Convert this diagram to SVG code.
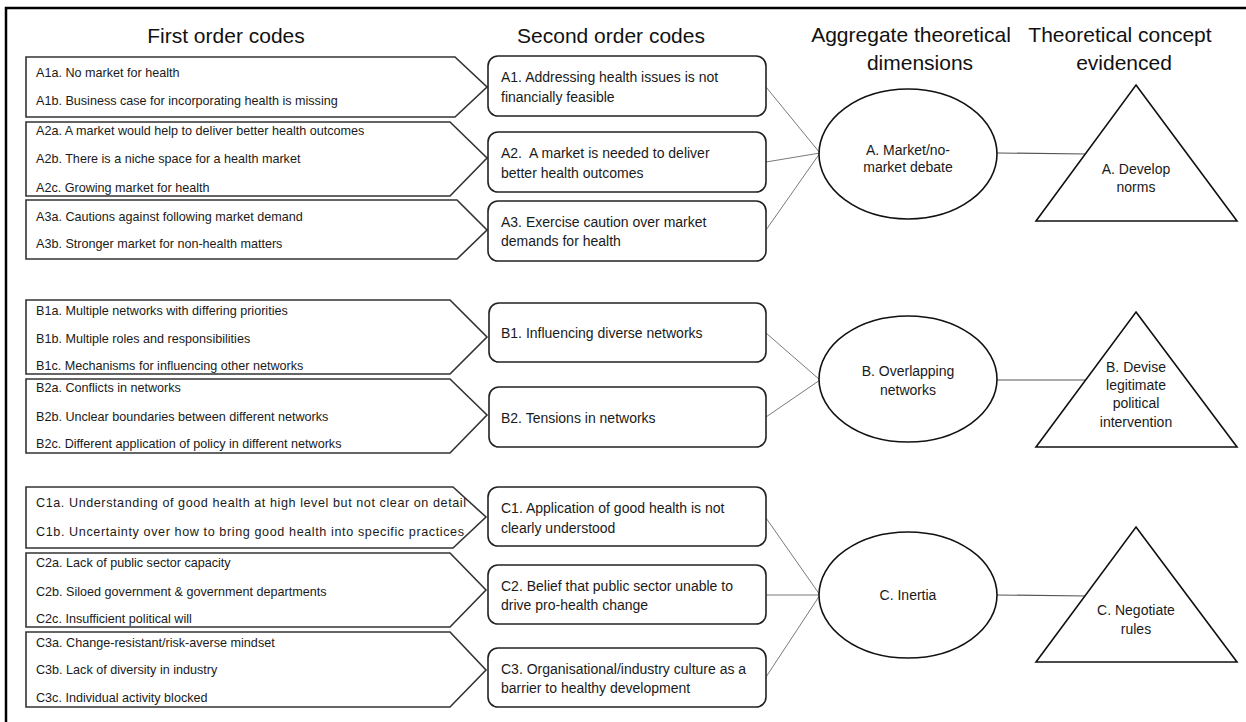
<svg xmlns="http://www.w3.org/2000/svg" width="1246" height="722" viewBox="0 0 1246 722">
<style>
.hd{font-family:"Liberation Sans",Arial,sans-serif;font-size:21px;fill:#111;text-anchor:middle}
.t1{font-family:"Liberation Sans",Arial,sans-serif;font-size:12.6px;fill:#1a1a1a}
.t2{font-family:"Liberation Sans",Arial,sans-serif;font-size:14px;fill:#1a1a1a}
.t3{font-family:"Liberation Sans",Arial,sans-serif;font-size:14px;fill:#1a1a1a;text-anchor:middle}
.pent{fill:#fff;stroke:#333;stroke-width:1.6}
.rr{fill:#fff;stroke:#222;stroke-width:1.6}
.el{fill:#fff;stroke:#111;stroke-width:1.6}
.tri{fill:#fff;stroke:#111;stroke-width:1.6}
.cn{stroke:#7a7a7a;stroke-width:1;fill:none}
.cn2{stroke:#555;stroke-width:1.2;fill:none}
</style>
<rect width="1246" height="722" fill="#fff"/>
<path d="M6,722 V8 H1246" fill="none" stroke="#000" stroke-width="2.5"/>

<g id="headers">
<text class="hd" x="226" y="43">First order codes</text>
<text class="hd" x="611" y="43">Second order codes</text>
<text class="hd" x="911" y="42">Aggregate theoretical</text>
<text class="hd" x="920" y="70">dimensions</text>
<text class="hd" x="1120" y="42">Theoretical concept</text>
<text class="hd" x="1124" y="70">evidenced</text>
</g>

<g id="connectors">
<line class="cn" x1="766" y1="87" x2="820" y2="153"/>
<line class="cn" x1="766" y1="162" x2="820" y2="153"/>
<line class="cn" x1="766" y1="230" x2="820" y2="153"/>
<line class="cn2" x1="997" y1="153" x2="1087" y2="154"/>
<line class="cn" x1="766" y1="333" x2="820" y2="380"/>
<line class="cn" x1="766" y1="417" x2="820" y2="380"/>
<line class="cn2" x1="997" y1="380" x2="1087" y2="380"/>
<line class="cn" x1="766" y1="518" x2="820" y2="595"/>
<line class="cn" x1="766" y1="595" x2="820" y2="595"/>
<line class="cn" x1="766" y1="677" x2="820" y2="595"/>
<line class="cn2" x1="996" y1="595" x2="1087" y2="596"/>
</g>

<g id="A1-first">
<polygon class="pent" points="26,57 455,57 487,87 455,117 26,117"/>
<text class="t1" x="36" y="77">A1a. No market for health</text>
<text class="t1" x="36" y="105">A1b. Business case for incorporating health is missing</text>
</g>
<g id="A2-first">
<polygon class="pent" points="26,122 450,122 487,158 450,196 26,196"/>
<text class="t1" x="36" y="135">A2a. A market would help to deliver better health outcomes</text>
<text class="t1" x="36" y="163">A2b. There is a niche space for a health market</text>
<text class="t1" x="36" y="192">A2c. Growing market for health</text>
</g>
<g id="A3-first">
<polygon class="pent" points="26,200 457,200 487,230 457,259 26,259"/>
<text class="t1" x="36" y="221">A3a. Cautions against following market demand</text>
<text class="t1" x="36" y="248">A3b. Stronger market for non-health matters</text>
</g>

<g id="B1-first">
<polygon class="pent" points="26,300 450,300 487,337 450,374 26,374"/>
<text class="t1" x="36" y="315">B1a. Multiple networks with differing priorities</text>
<text class="t1" x="36" y="343">B1b. Multiple roles and responsibilities</text>
<text class="t1" x="36" y="370">B1c. Mechanisms for influencing other networks</text>
</g>
<g id="B2-first">
<polygon class="pent" points="26,379 450,379 487,415 450,453 26,453"/>
<text class="t1" x="36" y="392">B2a. Conflicts in networks</text>
<text class="t1" x="36" y="421">B2b. Unclear boundaries between different networks</text>
<text class="t1" x="36" y="448">B2c. Different application of policy in different networks</text>
</g>

<g id="C1-first">
<polygon class="pent" points="26,487 453,487 486,517 453,548 26,548"/>
<text class="t1" x="36" y="507" textLength="430" lengthAdjust="spacing">C1a. Understanding of good health at high level but not clear on detail</text>
<text class="t1" x="36" y="536" textLength="428" lengthAdjust="spacing">C1b. Uncertainty over how to bring good health into specific practices</text>
</g>
<g id="C2-first">
<polygon class="pent" points="26,553 450,553 486,590 450,627 26,627"/>
<text class="t1" x="36" y="567">C2a. Lack of public sector capacity</text>
<text class="t1" x="36" y="596">C2b. Siloed government &amp; government departments</text>
<text class="t1" x="36" y="623">C2c. Insufficient political will</text>
</g>
<g id="C3-first">
<polygon class="pent" points="26,632 450,632 486,670 450,707 26,707"/>
<text class="t1" x="36" y="647">C3a. Change-resistant/risk-averse mindset</text>
<text class="t1" x="36" y="674">C3b. Lack of diversity in industry</text>
<text class="t1" x="36" y="702">C3c. Individual activity blocked</text>
</g>

<g id="A1-second">
<rect class="rr" x="488" y="56" width="278" height="60" rx="10"/>
<text class="t2" x="501" y="82">A1. Addressing health issues is not</text>
<text class="t2" x="501" y="102">financially feasible</text>
</g>
<g id="A2-second">
<rect class="rr" x="488" y="132" width="278" height="60" rx="10"/>
<text class="t2" x="501" y="158">A2.&#160; A market is needed to deliver</text>
<text class="t2" x="501" y="178">better health outcomes</text>
</g>
<g id="A3-second">
<rect class="rr" x="488" y="201" width="278" height="60" rx="10"/>
<text class="t2" x="501" y="227">A3. Exercise caution over market</text>
<text class="t2" x="501" y="246">demands for health</text>
</g>
<g id="B1-second">
<rect class="rr" x="489" y="303" width="277" height="59" rx="10"/>
<text class="t2" x="501" y="338">B1. Influencing diverse networks</text>
</g>
<g id="B2-second">
<rect class="rr" x="489" y="387" width="277" height="60" rx="10"/>
<text class="t2" x="501" y="423">B2. Tensions in networks</text>
</g>
<g id="C1-second">
<rect class="rr" x="488" y="487" width="278" height="59" rx="10"/>
<text class="t2" x="501" y="513">C1. Application of good health is not</text>
<text class="t2" x="501" y="533">clearly understood</text>
</g>
<g id="C2-second">
<rect class="rr" x="488" y="565" width="278" height="59" rx="10"/>
<text class="t2" x="501" y="591">C2. Belief that public sector unable to</text>
<text class="t2" x="501" y="610">drive pro-health change</text>
</g>
<g id="C3-second">
<rect class="rr" x="488" y="648" width="278" height="59" rx="10"/>
<text class="t2" x="501" y="674">C3. Organisational/industry culture as a</text>
<text class="t2" x="501" y="693">barrier to healthy development</text>
</g>

<g id="A-dimension">
<ellipse class="el" cx="908" cy="154" rx="89" ry="65"/>
<text class="t3" x="908" y="155">A. Market/no-</text>
<text class="t3" x="908" y="172">market debate</text>
</g>
<g id="B-dimension">
<ellipse class="el" cx="908" cy="379" rx="89" ry="63"/>
<text class="t3" x="908" y="376">B. Overlapping</text>
<text class="t3" x="908" y="395">networks</text>
</g>
<g id="C-dimension">
<ellipse class="el" cx="908" cy="595" rx="89" ry="63"/>
<text class="t3" x="908" y="600">C. Inertia</text>
</g>

<g id="A-concept">
<polygon class="tri" points="1136,85 1237,221 1036,221"/>
<text class="t3" x="1136" y="174">A. Develop</text>
<text class="t3" x="1136" y="192">norms</text>
</g>
<g id="B-concept">
<polygon class="tri" points="1136,312 1237,447 1036,447"/>
<text class="t3" x="1136" y="372">B. Devise</text>
<text class="t3" x="1136" y="390">legitimate</text>
<text class="t3" x="1136" y="408">political</text>
<text class="t3" x="1136" y="427">intervention</text>
</g>
<g id="C-concept">
<polygon class="tri" points="1136,527 1237,662 1036,662"/>
<text class="t3" x="1136" y="615">C. Negotiate</text>
<text class="t3" x="1136" y="634">rules</text>
</g>
</svg>
